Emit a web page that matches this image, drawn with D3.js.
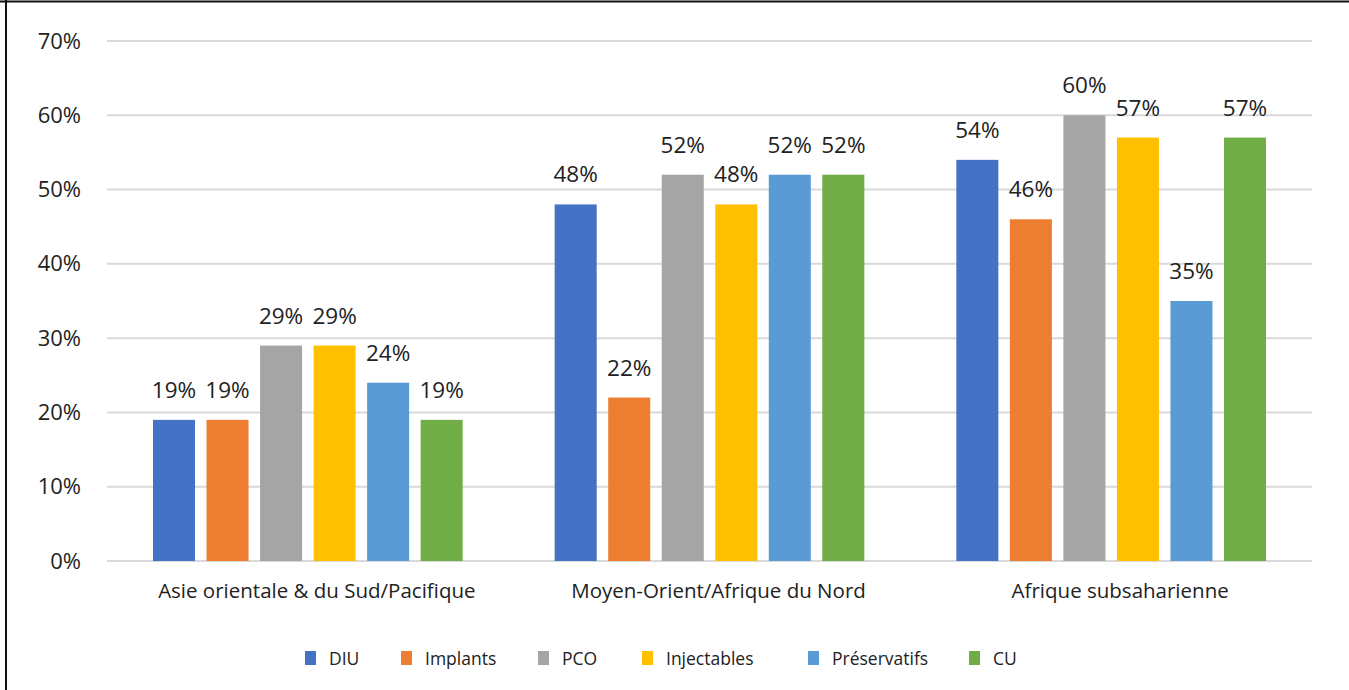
<!DOCTYPE html>
<html>
<head>
<meta charset="utf-8">
<script src="https://cdn.jsdelivr.net/npm/d3@7"></script>
<style>
  html, body { margin: 0; padding: 0; background: #fff; }
  svg { display: block; font-family: "Open Sans", "Noto Sans", sans-serif; }
</style>
</head>
<body>
<svg id="chart" width="1349" height="690"></svg>
<script>
// Regions and contraceptive methods
const regions = ["Asie orientale & du Sud/Pacifique", "Moyen-Orient/Afrique du Nord", "Afrique subsaharienne"];
const methods = ["DIU", "Implants", "PCO", "Injectables", "Préservatifs", "CU"];

// Share (%) per method, one array per method, ordered like regions
const DIU = [19, 48, 54];
const Implants = [19, 22, 46];
const PCO = [29, 52, 60];
const Injectables = [29, 48, 57];
const Preservatifs = [24, 52, 35];
const CU = [19, 52, 57];

const yTicks = [0, 10, 20, 30, 40, 50, 60, 70];
const colors = ["#4472C4", "#ED7D31", "#A5A5A5", "#FFC000", "#5B9BD5", "#70AD47"];

const seriesValues = [DIU, Implants, PCO, Injectables, Preservatifs, CU];
const rows = regions.map((r, i) => ({
  region: r,
  values: methods.map((m, j) => ({ method: m, value: seriesValues[j][i] }))
}));

const svg = d3.select("#chart");
const plot = { left: 107, right: 1312, top: 41, bottom: 561 };

// Frame lines along the top and left edges
svg.append("line").attr("x1", 0).attr("x2", 1349).attr("y1", 1.5).attr("y2", 1.5)
  .attr("stroke", "#111").attr("stroke-width", 2);
svg.append("line").attr("x1", 6).attr("x2", 6).attr("y1", 0).attr("y2", 690)
  .attr("stroke", "#111").attr("stroke-width", 2);

const y = d3.scaleLinear().domain([0, 70]).range([plot.bottom, plot.top]);
const x0 = d3.scaleBand().domain(regions).range([plot.left, plot.right]).padding(0);
const inner = 46;
const x1 = d3.scaleBand().domain(methods)
  .range([inner, x0.bandwidth() - inner]).paddingInner(0.215).paddingOuter(0);
const color = d3.scaleOrdinal().domain(methods).range(colors);

// Gridlines
svg.append("g").selectAll("line").data(yTicks).join("line")
  .attr("x1", plot.left).attr("x2", plot.right)
  .attr("y1", d => y(d)).attr("y2", d => y(d))
  .attr("stroke", "#d9d9d9").attr("stroke-width", 2);

// Y axis labels
const yAxis = d3.axisLeft(y).tickValues(yTicks).tickFormat(d => d + "%").tickSize(0).tickPadding(0);
const yg = svg.append("g").attr("transform", `translate(${81},0)`).call(yAxis);
yg.select(".domain").remove();
yg.selectAll("text").attr("font-size", 22).attr("fill", "#222")
  .attr("font-family", "\"Open Sans\", sans-serif");

// Bars
const groups = svg.append("g").selectAll("g").data(rows).join("g")
  .attr("transform", d => `translate(${x0(d.region)},0)`);

groups.selectAll("rect").data(d => d.values).join("rect")
  .attr("x", d => x1(d.method))
  .attr("width", x1.bandwidth())
  .attr("y", d => y(d.value))
  .attr("height", d => y(0) - y(d.value))
  .attr("fill", d => color(d.method));

// Value labels
groups.selectAll("text.val").data(d => d.values).join("text")
  .attr("class", "val")
  .attr("x", d => x1(d.method) + x1.bandwidth() / 2)
  .attr("y", d => y(d.value) - 22)
  .attr("text-anchor", "middle")
  .attr("font-size", 22.5).attr("fill", "#222")
  .text(d => d.value + "%");

// Category axis labels
const xAxis = d3.axisBottom(x0).tickSize(0).tickPadding(0);
const xg = svg.append("g").attr("transform", `translate(0,${plot.bottom + 22})`).call(xAxis);
xg.select(".domain").remove();
xg.selectAll("text").attr("font-size", 20.5).attr("fill", "#222").attr("dx", 9)
  .attr("font-family", "\"Open Sans\", sans-serif");

// Legend
const legendX = [305, 401, 538, 642, 808, 969];
const legend = svg.append("g").selectAll("g").data(methods).join("g")
  .attr("transform", (d, i) => `translate(${legendX[i]},651)`);
legend.append("rect").attr("width", 11).attr("height", 14).attr("fill", d => color(d));
legend.append("text").attr("x", 24).attr("y", 14)
  .attr("font-size", 17.5).attr("fill", "#222").text(d => d);
</script>
</body>
</html>
